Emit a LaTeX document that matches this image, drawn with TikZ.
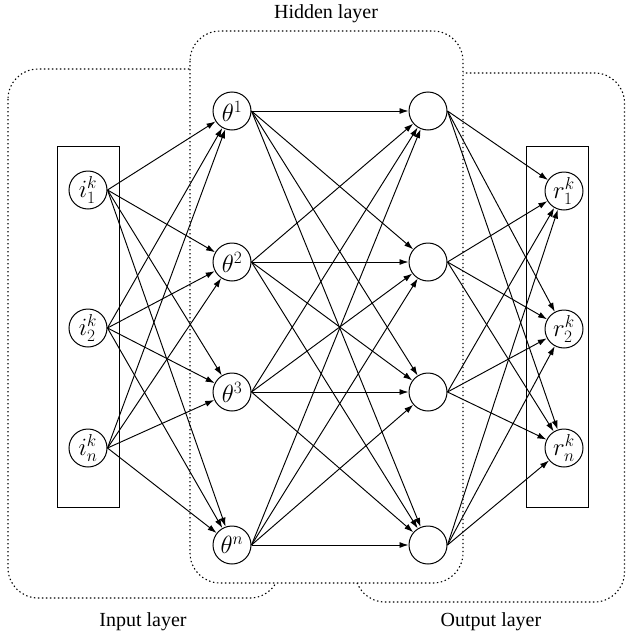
\documentclass[tikz,border=0pt]{standalone}
\usepackage{fontspec}
\setmainfont{Liberation Serif}
\usetikzlibrary{arrows.meta}
\begin{document}
\begin{tikzpicture}[x=1pt,y=-1pt,
  neuron/.style={circle,draw,line width=1pt,minimum size=38pt,inner sep=0pt,fill=white,font=\fontsize{23}{26}\selectfont},
  layerbox/.style={draw,line width=1.1pt,dash pattern=on 1.4pt off 2.6pt,rounded corners=30pt},
  framebox/.style={draw,line width=1pt,minimum width=62pt,minimum height=361pt,inner sep=0pt},
  conn/.style={line width=0.95pt,-{Latex[length=9pt,width=6pt]}},
  lbl/.style={font=\fontsize{20}{23}\selectfont}
]
\useasboundingbox (0,0) rectangle (626,640);
% layer regions
\draw[layerbox] (8,69) rectangle (280,598);
\draw[layerbox] (355,73) rectangle (624.5,602);
\draw[layerbox,fill=white] (190,31) rectangle (463,583);
% labels
\node[lbl] (lh) at (326,14) {Hidden layer};
\node[lbl] (li) at (143,622) {Input layer};
\node[lbl] (lo) at (491,622) {Output layer};
% frames
\node[framebox] (fin) at (88,326.5) {};
\node[framebox] (fout) at (557,327) {};
% neurons
\node[neuron] (i1) at (88,190) {$i_1^k$};
\node[neuron] (i2) at (88,328) {$i_2^k$};
\node[neuron] (i3) at (88,448) {$i_n^k$};
\node[neuron] (t1) at (232,111) {$\theta^1$};
\node[neuron] (t2) at (232,262) {$\theta^2$};
\node[neuron] (t3) at (232,392) {$\theta^3$};
\node[neuron] (t4) at (232,545) {$\theta^n$};
\node[neuron] (h1) at (428,111) {};
\node[neuron] (h2) at (428,262) {};
\node[neuron] (h3) at (428,392) {};
\node[neuron] (h4) at (428,545) {};
\node[neuron] (r1) at (564,191) {$r_1^k$};
\node[neuron] (r2) at (564,329) {$r_2^k$};
\node[neuron] (r3) at (564,448) {$r_n^k$};
% connections
\foreach \a in {i1,i2,i3}
  \foreach \b in {t1,t2,t3,t4}
    \draw[conn] (\a.east) -- (\b);
\foreach \a in {t1,t2,t3,t4}
  \foreach \b in {h1,h2,h3,h4}
    \draw[conn] (\a.east) -- (\b);
\foreach \a in {h1,h2,h3,h4}
  \foreach \b in {r1,r2,r3}
    \draw[conn] (\a.east) -- (\b);
\end{tikzpicture}
\end{document}
